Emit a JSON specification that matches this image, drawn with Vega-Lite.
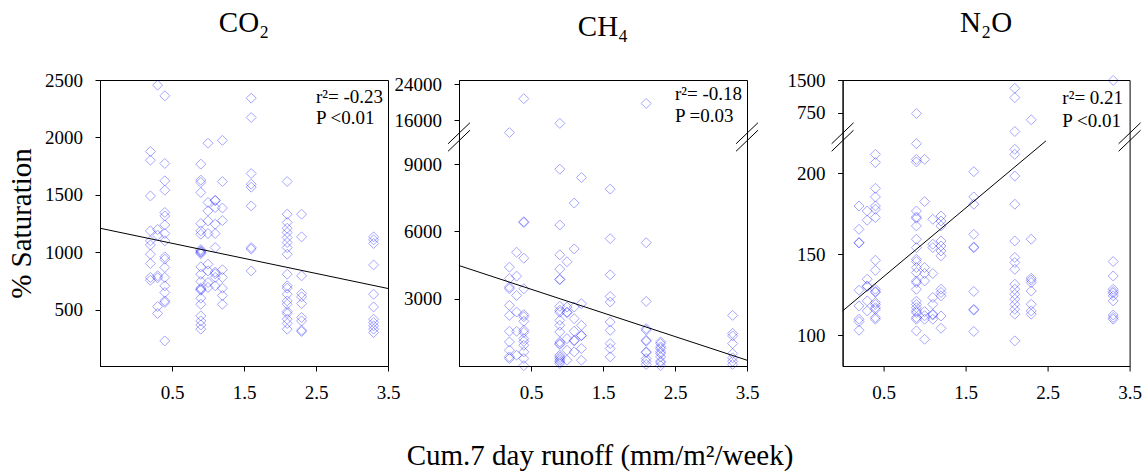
{
  "$schema": "https://vega.github.io/schema/vega-lite/v6.json",
  "background": "white",
  "padding": {"left": 7, "top": 8, "right": 0, "bottom": 0},
  "config": {
    "view": {"stroke": "black", "strokeWidth": 1},
    "font": "Liberation Serif",
    "axis": {"grid": false, "domainColor": "black", "tickColor": "black", "tickSize": 5, "labelFont": "Liberation Serif", "labelFontSize": 19, "labelColor": "black", "labelPadding": 12.5, "labelFlush": false, "labelOverlap": false, "titleFont": "Liberation Serif", "titleFontSize": 29, "titleFontWeight": "normal", "titleColor": "black"},
    "title": {"font": "Liberation Serif", "fontSize": 29, "fontWeight": "normal", "color": "black"}
  },
  "title": {"text": "Cum.7 day runoff (mm/m²/week)", "orient": "bottom", "anchor": "middle", "offset": 39, "dx": 25},
  "datasets": {
    "co2": [
      {"x":0.2,"y":1878},{"x":0.2,"y":1803},{"x":0.2,"y":1492},{"x":0.2,"y":1188},{"x":0.2,"y":1101},{"x":0.2,"y":1066},{"x":0.2,"y":985},{"x":0.2,"y":904},{"x":0.2,"y":783},{"x":0.2,"y":759},
      {"x":0.3,"y":2455},{"x":0.3,"y":1200},{"x":0.3,"y":1150},{"x":0.3,"y":797},{"x":0.3,"y":780},{"x":0.3,"y":530},{"x":0.3,"y":470},
      {"x":0.4,"y":2362},{"x":0.4,"y":1774},{"x":0.4,"y":1623},{"x":0.4,"y":1542},{"x":0.4,"y":1348},{"x":0.4,"y":1318},{"x":0.4,"y":1240},{"x":0.4,"y":1165},{"x":0.4,"y":1101},{"x":0.4,"y":962},{"x":0.4,"y":942},{"x":0.4,"y":870},{"x":0.4,"y":783},{"x":0.4,"y":710},{"x":0.4,"y":652},{"x":0.4,"y":579},{"x":0.4,"y":565},{"x":0.4,"y":231},
      {"x":0.9,"y":1768},{"x":0.9,"y":1629},{"x":0.9,"y":1609},{"x":0.9,"y":1522},{"x":0.9,"y":1252},{"x":0.9,"y":1188},{"x":0.9,"y":1159},{"x":0.9,"y":1025},{"x":0.9,"y":1015},{"x":0.9,"y":1005},{"x":0.9,"y":1000},{"x":0.9,"y":990},{"x":0.9,"y":875},{"x":0.9,"y":811},{"x":0.9,"y":748},{"x":0.9,"y":690},{"x":0.9,"y":680},{"x":0.9,"y":672},{"x":0.9,"y":603},{"x":0.9,"y":550},{"x":0.9,"y":449},{"x":0.9,"y":405},{"x":0.9,"y":370},{"x":0.9,"y":333},
      {"x":1.0,"y":1950},{"x":1.0,"y":1435},{"x":1.0,"y":1362},{"x":1.0,"y":1275},{"x":1.0,"y":1165},{"x":1.0,"y":898},{"x":1.0,"y":840},{"x":1.0,"y":739},{"x":1.0,"y":696},
      {"x":1.1,"y":1455},{"x":1.1,"y":1450},{"x":1.1,"y":1391},{"x":1.1,"y":1246},{"x":1.1,"y":1165},{"x":1.1,"y":1043},{"x":1.1,"y":830},{"x":1.1,"y":815},{"x":1.1,"y":783},{"x":1.1,"y":710},
      {"x":1.2,"y":1975},{"x":1.2,"y":1617},{"x":1.2,"y":1387},{"x":1.2,"y":1278},{"x":1.2,"y":850},{"x":1.2,"y":783},{"x":1.2,"y":690},{"x":1.2,"y":626},{"x":1.2,"y":550},
      {"x":1.6,"y":2342},{"x":1.6,"y":2174},{"x":1.6,"y":1687},{"x":1.6,"y":1594},{"x":1.6,"y":1568},{"x":1.6,"y":1405},{"x":1.6,"y":1043},{"x":1.6,"y":1030},{"x":1.6,"y":840},
      {"x":2.1,"y":1617},{"x":2.1,"y":1333},{"x":2.1,"y":1261},{"x":2.1,"y":1211},{"x":2.1,"y":1174},{"x":2.1,"y":1130},{"x":2.1,"y":1087},{"x":2.1,"y":1043},{"x":2.1,"y":985},{"x":2.1,"y":811},{"x":2.1,"y":710},{"x":2.1,"y":690},{"x":2.1,"y":637},{"x":2.1,"y":579},{"x":2.1,"y":550},{"x":2.1,"y":487},{"x":2.1,"y":470},{"x":2.1,"y":420},{"x":2.1,"y":383},{"x":2.1,"y":333},
      {"x":2.3,"y":1333},{"x":2.3,"y":1136},{"x":2.3,"y":797},{"x":2.3,"y":643},{"x":2.3,"y":614},{"x":2.3,"y":556},{"x":2.3,"y":435},{"x":2.3,"y":405},{"x":2.3,"y":324},{"x":2.3,"y":313},
      {"x":3.3,"y":1136},{"x":3.3,"y":1110},{"x":3.3,"y":1078},{"x":3.3,"y":892},{"x":3.3,"y":637},{"x":3.3,"y":527},{"x":3.3,"y":420},{"x":3.3,"y":391},{"x":3.3,"y":362},{"x":3.3,"y":333},{"x":3.3,"y":304}
    ],
    "co2line": [{"x":-0.5,"y":1211},{"x":3.5,"y":687}],
    "co2txt": [{"x":2.5,"y":2304,"t":"r²= -0.23"},{"x":2.5,"y":2116,"t":"P <0.01"}],
    "ch4": [
      {"x":0.4,"y":20800},{"x":0.2,"y":13180},{"x":0.9,"y":15260},{"x":2.1,"y":19740},
      {"x":0.2,"y":4407},{"x":0.2,"y":3900},{"x":0.2,"y":3519},{"x":0.2,"y":3444},{"x":0.2,"y":2704},{"x":0.2,"y":2259},{"x":0.2,"y":1548},{"x":0.2,"y":1074},{"x":0.2,"y":704},{"x":0.2,"y":407},{"x":0.2,"y":333},
      {"x":0.3,"y":5074},{"x":0.3,"y":4007},{"x":0.3,"y":3148},{"x":0.3,"y":2407},{"x":0.3,"y":1548},{"x":0.3,"y":481},
      {"x":0.4,"y":6435},{"x":0.4,"y":6400},{"x":0.4,"y":4807},{"x":0.4,"y":3444},{"x":0.4,"y":2289},{"x":0.4,"y":2200},{"x":0.4,"y":1993},{"x":0.4,"y":1593},{"x":0.4,"y":1500},{"x":0.4,"y":1222},{"x":0.4,"y":1100},{"x":0.4,"y":926},{"x":0.4,"y":630},{"x":0.4,"y":333},{"x":0.4,"y":15},
      {"x":0.9,"y":8778},{"x":0.9,"y":6289},{"x":0.9,"y":4960},{"x":0.9,"y":4320},{"x":0.9,"y":3859},{"x":0.9,"y":3860},{"x":0.9,"y":2660},{"x":0.9,"y":2481},{"x":0.9,"y":2400},{"x":0.9,"y":2037},{"x":0.9,"y":1815},{"x":0.9,"y":1519},{"x":0.9,"y":1074},{"x":0.9,"y":1000},{"x":0.9,"y":960},{"x":0.9,"y":481},{"x":0.9,"y":407},{"x":0.9,"y":333},{"x":0.9,"y":259},{"x":0.9,"y":185},{"x":0.9,"y":111},
      {"x":1.0,"y":4650},{"x":1.0,"y":2630},{"x":1.0,"y":2400},{"x":1.0,"y":2378},{"x":1.0,"y":1222},{"x":1.0,"y":704},{"x":1.0,"y":259},
      {"x":1.1,"y":7267},{"x":1.1,"y":5222},{"x":1.1,"y":2630},{"x":1.1,"y":2111},{"x":1.1,"y":1548},{"x":1.1,"y":1148},{"x":1.1,"y":1120},{"x":1.1,"y":630},
      {"x":1.2,"y":8407},{"x":1.2,"y":2778},{"x":1.2,"y":1815},{"x":1.2,"y":1370},{"x":1.2,"y":1350},{"x":1.2,"y":778},{"x":1.2,"y":259},
      {"x":1.6,"y":7889},{"x":1.6,"y":5680},{"x":1.6,"y":4067},{"x":1.6,"y":3100},{"x":1.6,"y":2852},{"x":1.6,"y":1963},{"x":1.6,"y":1593},{"x":1.6,"y":1000},{"x":1.6,"y":778},{"x":1.6,"y":407},
      {"x":2.1,"y":5500},{"x":2.1,"y":2881},{"x":2.1,"y":1667},{"x":2.1,"y":1600},{"x":2.1,"y":1148},{"x":2.1,"y":1104},{"x":2.1,"y":630},{"x":2.1,"y":600},{"x":2.1,"y":333},{"x":2.1,"y":215},{"x":2.1,"y":70},
      {"x":2.3,"y":1074},{"x":2.3,"y":1000},{"x":2.3,"y":852},{"x":2.3,"y":778},{"x":2.3,"y":630},{"x":2.3,"y":556},{"x":2.3,"y":407},{"x":2.3,"y":215},{"x":2.3,"y":148},{"x":2.3,"y":15},
      {"x":3.3,"y":2259},{"x":3.3,"y":1457},{"x":3.3,"y":1341},{"x":3.3,"y":1000},{"x":3.3,"y":556},{"x":3.3,"y":363},{"x":3.3,"y":215},{"x":3.3,"y":70}
    ],
    "ch4line": [{"x":-0.5,"y":4480},{"x":3.5,"y":258}],
    "ch4txt": [{"x":2.5,"y":20413,"t":"r²= -0.18"},{"x":2.5,"y":15552,"t":"P =0.03"}],
    "ch4brk": [{"x":-0.5,"y":10213},{"x":3.5,"y":10213}],
    "n2o": [
      {"x":0.2,"y":179.8},{"x":0.2,"y":165.4},{"x":0.2,"y":157.2},{"x":0.2,"y":157},{"x":0.2,"y":127.8},{"x":0.2,"y":118.1},{"x":0.2,"y":109.9},{"x":0.2,"y":108.4},{"x":0.2,"y":103.1},
      {"x":0.3,"y":176.7},{"x":0.3,"y":171},{"x":0.3,"y":134.6},{"x":0.3,"y":130.4},{"x":0.3,"y":130},{"x":0.3,"y":121.2},{"x":0.3,"y":115},
      {"x":0.4,"y":211.7},{"x":0.4,"y":206.6},{"x":0.4,"y":190.7},{"x":0.4,"y":185.4},{"x":0.4,"y":179.8},{"x":0.4,"y":177.8},{"x":0.4,"y":172.7},{"x":0.4,"y":146.3},{"x":0.4,"y":140.1},{"x":0.4,"y":128.4},{"x":0.4,"y":127},{"x":0.4,"y":126.5},{"x":0.4,"y":120.2},{"x":0.4,"y":119},{"x":0.4,"y":117},{"x":0.4,"y":116},{"x":0.4,"y":110.9},{"x":0.4,"y":109.9},
      {"x":0.9,"y":730},{"x":0.9,"y":218.3},{"x":0.9,"y":208.6},{"x":0.9,"y":207},{"x":0.9,"y":176.7},{"x":0.9,"y":173},{"x":0.9,"y":172.2},{"x":0.9,"y":167.5},{"x":0.9,"y":159.3},{"x":0.9,"y":154.1},{"x":0.9,"y":146.9},{"x":0.9,"y":145.5},{"x":0.9,"y":141.8},{"x":0.9,"y":138.7},{"x":0.9,"y":133.5},{"x":0.9,"y":132.5},{"x":0.9,"y":128.4},{"x":0.9,"y":121},{"x":0.9,"y":119},{"x":0.9,"y":117},{"x":0.9,"y":115},{"x":0.9,"y":114},{"x":0.9,"y":110.9},{"x":0.9,"y":109.9},{"x":0.9,"y":102.7},
      {"x":1.0,"y":208.6},{"x":1.0,"y":182.5},{"x":1.0,"y":141.8},{"x":1.0,"y":138.1},{"x":1.0,"y":133.5},{"x":1.0,"y":114.6},{"x":1.0,"y":112},{"x":1.0,"y":109.9},{"x":1.0,"y":97.5},
      {"x":1.1,"y":171.6},{"x":1.1,"y":156.2},{"x":1.1,"y":154.1},{"x":1.1,"y":138.1},{"x":1.1,"y":123.3},{"x":1.1,"y":119.1},{"x":1.1,"y":113},{"x":1.1,"y":112.5},{"x":1.1,"y":109.9},
      {"x":1.2,"y":173.6},{"x":1.2,"y":170.5},{"x":1.2,"y":167.5},{"x":1.2,"y":158.2},{"x":1.2,"y":155.1},{"x":1.2,"y":152},{"x":1.2,"y":149},{"x":1.2,"y":128.4},{"x":1.2,"y":126.4},{"x":1.2,"y":124.3},{"x":1.2,"y":111.9},{"x":1.2,"y":104.3},
      {"x":1.6,"y":201},{"x":1.6,"y":185.4},{"x":1.6,"y":180.9},{"x":1.6,"y":162.3},{"x":1.6,"y":154.5},{"x":1.6,"y":154},{"x":1.6,"y":127},{"x":1.6,"y":116},{"x":1.6,"y":115.5},{"x":1.6,"y":102.3},
      {"x":2.1,"y":1309},{"x":2.1,"y":1095},{"x":2.1,"y":343},{"x":2.1,"y":214.8},{"x":2.1,"y":211.7},{"x":2.1,"y":198.3},{"x":2.1,"y":180.9},{"x":2.1,"y":158.2},{"x":2.1,"y":148},{"x":2.1,"y":144.9},{"x":2.1,"y":140.7},{"x":2.1,"y":131.5},{"x":2.1,"y":128.4},{"x":2.1,"y":125.3},{"x":2.1,"y":122.2},{"x":2.1,"y":119.1},{"x":2.1,"y":116},{"x":2.1,"y":113},{"x":2.1,"y":96.5},
      {"x":2.3,"y":596},{"x":2.3,"y":159.3},{"x":2.3,"y":135.2},{"x":2.3,"y":134},{"x":2.3,"y":132.5},{"x":2.3,"y":127.3},{"x":2.3,"y":119.1},{"x":2.3,"y":115},{"x":2.3,"y":113},
      {"x":3.3,"y":1490},{"x":3.3,"y":145.5},{"x":3.3,"y":136.6},{"x":3.3,"y":128.4},{"x":3.3,"y":127},{"x":3.3,"y":126},{"x":3.3,"y":124.3},{"x":3.3,"y":121.2},{"x":3.3,"y":112.5},{"x":3.3,"y":111},{"x":3.3,"y":109.9}
    ],
    "n2oline": [{"x":0,"y":115},{"x":2.48,"y":220}],
    "n2otxt": [{"x":2.68,"y":957,"t":"r²= 0.21"},{"x":2.68,"y":437,"t":"P <0.01"}],
    "n2obrk": [{"x":0,"y":222.4},{"x":3.5,"y":222.4}]
  },
  "bounds": "flush",
  "spacing": 71,
  "hconcat": [
    {
      "title": {"text": "CO₂", "offset": 33},
      "width": 288, "height": 286,
      "encoding": {
        "x": {"field": "x", "type": "quantitative", "scale": {"domain": [-0.5, 3.5], "nice": false, "zero": false}, "axis": {"values": [0.5, 1.5, 2.5, 3.5], "format": ".1f", "title": null}},
        "y": {"field": "y", "type": "quantitative", "scale": {"domain": [13, 2500], "nice": false, "zero": false}, "axis": {"values": [500, 1000, 1500, 2000, 2500], "format": "d", "title": "% Saturation", "titlePadding": 8}}
      },
      "layer": [
        {"data": {"name": "co2"}, "mark": {"type": "point", "shape": "diamond", "filled": false, "size": 100, "stroke": "#0000ff", "strokeWidth": 1, "opacity": 0.35}},
        {"data": {"name": "co2line"}, "mark": {"type": "line", "color": "black", "strokeWidth": 1}, "encoding": {}},
        {"data": {"name": "co2txt"}, "mark": {"type": "text", "align": "left", "baseline": "alphabetic", "fontSize": 19, "font": "Liberation Serif", "color": "black"}, "encoding": {"text": {"field": "t"}}}
      ]
    },
    {
      "bounds": "flush",
      "spacing": 95.6,
      "hconcat": [
        {
          "title": {"text": "CH₄", "offset": 33},
          "width": 288, "height": 286,
          "encoding": {
            "x": {"field": "x", "type": "quantitative", "scale": {"domain": [-0.5, 3.5], "nice": false, "zero": false}, "axis": {"values": [0.5, 1.5, 2.5, 3.5], "format": ".1f", "title": null}},
            "y": {"field": "y", "type": "quantitative", "scale": {"domain": [0, 10213, 12192, 25000], "range": [286, 57, 57, 0], "nice": false, "zero": false}, "axis": {"values": [3000, 6000, 9000, 16000, 24000], "format": "d", "title": null}}
          },
          "layer": [
            {"data": {"name": "ch4"}, "mark": {"type": "point", "shape": "diamond", "filled": false, "size": 100, "stroke": "#0000ff", "strokeWidth": 1, "opacity": 0.35}},
            {"data": {"name": "ch4line"}, "mark": {"type": "line", "color": "black", "strokeWidth": 1}, "encoding": {}},
            {"data": {"name": "ch4txt"}, "mark": {"type": "text", "align": "left", "baseline": "alphabetic", "fontSize": 19, "font": "Liberation Serif", "color": "black"}, "encoding": {"text": {"field": "t"}}},
            {"data": {"name": "ch4brk"}, "mark": {"type": "point", "shape": "M-0.73,0.45L0.73,-0.95M-0.73,0.95L0.73,-0.45", "filled": false, "size": 900, "stroke": "black", "strokeWidth": 1, "opacity": 1, "clip": false}}
          ]
        },
        {
          "title": {"text": "N₂O", "offset": 33},
          "width": 287, "height": 286,
          "encoding": {
            "x": {"field": "x", "type": "quantitative", "scale": {"domain": [0, 3.5], "nice": false, "zero": false}, "axis": {"values": [0.5, 1.5, 2.5, 3.5], "format": ".1f", "title": null}},
            "y": {"field": "y", "type": "quantitative", "scale": {"domain": [81, 222.4, 225, 750, 1500], "range": [286, 57, 57, 32.6, 0], "nice": false, "zero": false}, "axis": {"values": [100, 150, 200, 750, 1500], "format": "d", "title": null}}
          },
          "layer": [
            {"data": {"name": "n2o"}, "mark": {"type": "point", "shape": "diamond", "filled": false, "size": 100, "stroke": "#0000ff", "strokeWidth": 1, "opacity": 0.35}},
            {"data": {"name": "n2oline"}, "mark": {"type": "line", "color": "black", "strokeWidth": 1}, "encoding": {}},
            {"data": {"name": "n2otxt"}, "mark": {"type": "text", "align": "left", "baseline": "alphabetic", "fontSize": 19, "font": "Liberation Serif", "color": "black"}, "encoding": {"text": {"field": "t"}}},
            {"data": {"name": "n2obrk"}, "mark": {"type": "point", "shape": "M-0.73,0.45L0.73,-0.95M-0.73,0.95L0.73,-0.45", "filled": false, "size": 900, "stroke": "black", "strokeWidth": 1, "opacity": 1, "clip": false}}
          ]
        }
      ]
    }
  ]
}
